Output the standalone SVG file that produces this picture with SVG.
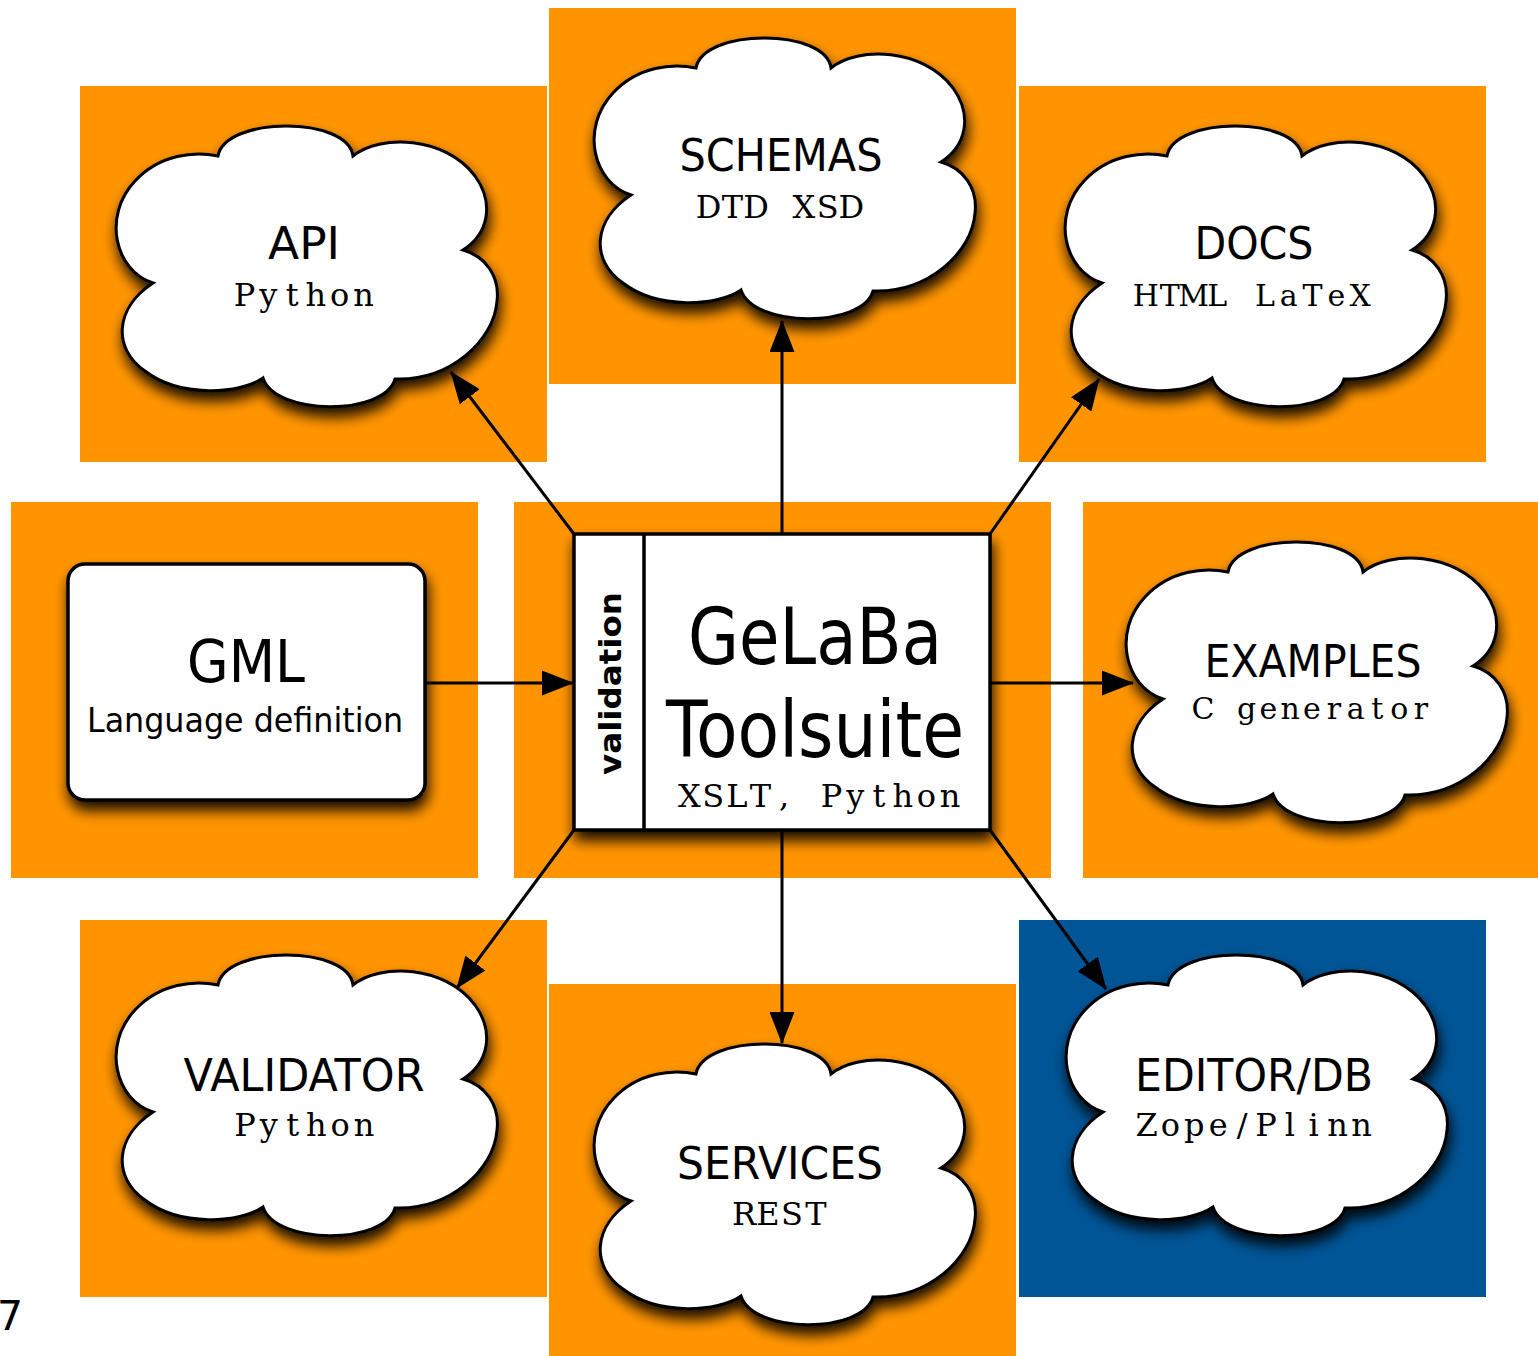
<svg xmlns="http://www.w3.org/2000/svg" xmlns:xlink="http://www.w3.org/1999/xlink" width="1538" height="1356" viewBox="0 0 1538 1356">
  <defs>
    <style>
      .tile-o { fill: #FF9400; }
      .tile-b { fill: #005596; }
      .cloud { fill: #ffffff; stroke: #000000; stroke-width: 3; stroke-linejoin: miter; }
      .card { fill: #ffffff; stroke: #000000; stroke-width: 3.5; }
      .title { font-family: "DejaVu Sans", "Liberation Sans", sans-serif; font-size: 45px; fill: #000; text-anchor: middle; }
      /* typewriter-style subtitles: each glyph sits centred in a fixed cell */
      .sub { font-family: "DejaVu Serif", "Liberation Serif", serif; font-size: 32px; fill: #000; text-anchor: middle; }
      .edge { fill: none; stroke: #000000; stroke-width: 3; marker-end: url(#arrow); }
    </style>
    <filter id="shadow" x="-15%" y="-15%" width="135%" height="140%">
      <feGaussianBlur in="SourceAlpha" stdDeviation="7"/>
      <feOffset dx="2" dy="9" result="blur"/>
      <feComponentTransfer>
        <feFuncA type="linear" slope="0.9"/>
      </feComponentTransfer>
      <feMerge>
        <feMergeNode/>
        <feMergeNode in="SourceGraphic"/>
      </feMerge>
    </filter>
    <marker id="arrow" markerUnits="userSpaceOnUse" markerWidth="32" markerHeight="25" refX="31" refY="12.5" orient="auto">
      <path d="M0,0 L32,12.5 L0,25 Z" fill="#000"/>
    </marker>
    <!-- cloud outline, origin at the top-left of its tile -->
    <path id="cloud" d="M138,70 C145,30 268,30 273,70 C300,48 365,50 395,90 C415,118 408,148 383,164 C405,170 420,190 417,215 C414,255 370,295 315,293 C305,330 195,330 183,292 C160,308 100,312 65,285 C32,262 35,222 73,197 C35,185 22,130 55,95 C80,68 115,65 138,70 Z"/>
  </defs>

  <rect x="0" y="0" width="1538" height="1356" fill="#ffffff"/>

  <!-- background tiles -->
  <g id="tiles">
    <rect class="tile-o" x="80" y="86" width="467" height="376"/>
    <rect class="tile-o" x="549" y="8" width="467" height="376"/>
    <rect class="tile-o" x="1019" y="86" width="467" height="376"/>
    <rect class="tile-o" x="11" y="502" width="467" height="376"/>
    <rect class="tile-o" x="514" y="502" width="537" height="376"/>
    <rect class="tile-o" x="1083" y="502" width="455" height="376"/>
    <rect class="tile-o" x="80" y="920" width="467" height="377"/>
    <rect class="tile-o" x="549" y="984" width="467" height="372"/>
    <rect class="tile-b" x="1019" y="920" width="467" height="377"/>
  </g>

  <g id="api">
    <use xlink:href="#cloud" href="#cloud" class="cloud" transform="translate(80,86)" filter="url(#shadow)"/>
    <text class="title" x="304" y="259" textLength="72" lengthAdjust="spacingAndGlyphs">API</text>
    <text class="sub" x="244.5 268.3 292.1 315.9 339.7 363.5" y="306">Python</text>
  </g>

  <g id="schemas">
    <use xlink:href="#cloud" href="#cloud" class="cloud" transform="translate(558,-2)" filter="url(#shadow)"/>
    <text class="title" x="781" y="171" textLength="203" lengthAdjust="spacingAndGlyphs">SCHEMAS</text>
    <text class="sub" x="708.6 732.4 756.2 780 803.8 827.6 851.4" y="218">DTD XSD</text>
  </g>

  <g id="docs">
    <use xlink:href="#cloud" href="#cloud" class="cloud" transform="translate(1029,86)" filter="url(#shadow)"/>
    <text class="title" x="1254" y="259" textLength="119" lengthAdjust="spacingAndGlyphs">DOCS</text>
    <text class="sub" style="font-size:30px" x="1145.9 1169.7 1193.5 1217.3 1241.1 1264.9 1288.7 1312.5 1336.3 1360.1" y="306">HTML LaTeX</text>
  </g>

  <g id="gml">
    <rect class="card" x="68" y="564" width="357" height="236" rx="17" ry="17" filter="url(#shadow)"/>
    <text class="title" x="246" y="682" style="font-size:59px" textLength="118" lengthAdjust="spacingAndGlyphs">GML</text>
    <text class="title" x="245" y="732" style="font-size:34px" textLength="316" lengthAdjust="spacingAndGlyphs">Language definition</text>
  </g>

  <g id="toolsuite">
    <rect class="card" x="574" y="534" width="416" height="296" filter="url(#shadow)"/>
    <line x1="644" y1="534" x2="644" y2="830" stroke="#000" stroke-width="3.5"/>
    <text transform="translate(621,683.5) rotate(-90)" x="0" y="0" style="font-family:'DejaVu Sans','Liberation Sans',sans-serif;font-size:31px;font-weight:bold;text-anchor:middle" textLength="183" lengthAdjust="spacingAndGlyphs">validation</text>
    <text class="title" x="815" y="664" style="font-size:78px" textLength="254" lengthAdjust="spacingAndGlyphs">GeLaBa</text>
    <text class="title" x="815" y="757" style="font-size:78px" textLength="298" lengthAdjust="spacingAndGlyphs">Toolsuite</text>
    <text class="sub" x="689.4 713.1 736.8 760.5 784.2 807.9 831.6 855.3 879.0 902.7 926.4 950.1" y="807">XSLT, Python</text>
  </g>

  <g id="examples">
    <use xlink:href="#cloud" href="#cloud" class="cloud" transform="translate(1090,502)" filter="url(#shadow)"/>
    <text class="title" x="1313" y="677" textLength="217" lengthAdjust="spacingAndGlyphs">EXAMPLES</text>
    <text class="sub" style="font-size:30px" x="1203 1224.8 1246.6 1268.4 1290.2 1312 1333.8 1355.6 1377.4 1399.2 1421" y="719">C generator</text>
  </g>

  <g id="validator">
    <use xlink:href="#cloud" href="#cloud" class="cloud" transform="translate(80,915)" filter="url(#shadow)"/>
    <text class="title" x="304" y="1091" textLength="241" lengthAdjust="spacingAndGlyphs">VALIDATOR</text>
    <text class="sub" x="245 268.8 292.6 316.4 340.2 364" y="1136">Python</text>
  </g>

  <g id="services">
    <use xlink:href="#cloud" href="#cloud" class="cloud" transform="translate(558,1004)" filter="url(#shadow)"/>
    <text class="title" x="780" y="1179" textLength="206" lengthAdjust="spacingAndGlyphs">SERVICES</text>
    <text class="sub" x="744 768 792 816" y="1225">REST</text>
  </g>

  <g id="editor">
    <use xlink:href="#cloud" href="#cloud" class="cloud" transform="translate(1030,915)" filter="url(#shadow)"/>
    <text class="title" x="1254" y="1091" textLength="238" lengthAdjust="spacingAndGlyphs">EDITOR/DB</text>
    <text class="sub" x="1146.5 1170.4 1194.3 1218.2 1242.1 1265.9 1289.8 1313.7 1337.6 1361.5" y="1136">Zope/Plinn</text>
  </g>

  <!-- connectors -->
  <g id="connectors">
    <line class="edge" x1="425" y1="683" x2="573" y2="683"/>
    <line class="edge" x1="990" y1="683" x2="1133" y2="683"/>
    <line class="edge" x1="782" y1="534" x2="782" y2="321"/>
    <line class="edge" x1="782" y1="830" x2="782" y2="1043"/>
    <line class="edge" x1="574" y1="534" x2="451" y2="372"/>
    <line class="edge" x1="990" y1="534" x2="1099" y2="379"/>
    <line class="edge" x1="574" y1="830" x2="457" y2="988"/>
    <line class="edge" x1="990" y1="830" x2="1106" y2="989"/>
  </g>

  <text x="-3" y="1330" style="font-family:'DejaVu Sans','Liberation Sans',sans-serif;font-size:41px;fill:#000">7</text>
</svg>
